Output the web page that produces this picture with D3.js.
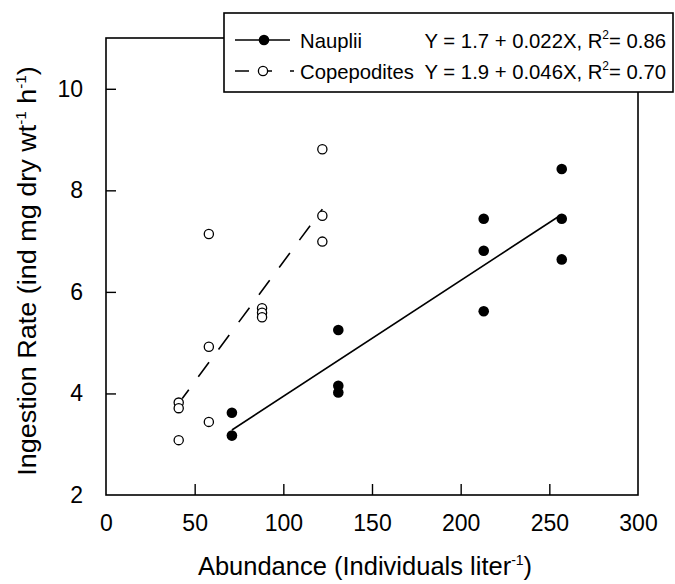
<!DOCTYPE html>
<html>
<head>
<meta charset="utf-8">
<script src="https://cdn.jsdelivr.net/npm/d3@7"></script>
<style>
    body { margin: 0; background: #fff; }
    text { font-family: "Liberation Sans", Arial, Helvetica, sans-serif; fill: #000; }
</style>
</head>
<body>
<div id="chart"></div>
<script>
// abundance (ind/L) and ingestion rate
const naupliiX = [71, 71, 131, 131, 131, 213, 213, 213, 257, 257, 257];
const naupliiY = [3.62, 3.17, 5.25, 4.15, 4.02, 7.44, 6.81, 5.62, 8.42, 7.44, 6.64];
const copeX = [41, 41, 41, 58, 58, 58, 88, 88, 88, 122, 122, 122];
const copeY = [3.82, 3.71, 3.08, 7.14, 4.92, 3.44, 5.68, 5.59, 5.50, 8.81, 7.50, 6.99];

// regression lines (end points as drawn)
const naupliiFit = [[71, 3.28], [255, 7.48]];
const copeFit = [[43, 3.9], [122, 7.63]];

const xTicks = [0, 50, 100, 150, 200, 250, 300];
const yTicks = [2, 4, 6, 8, 10];
const legendLabels = ["Nauplii", "Copepodites"];
const legendEq = ["Y = 1.7 + 0.022X, R", "Y = 1.9 + 0.046X, R"];
const legendR2 = ["= 0.86", "= 0.70"];

const width = 675, height = 584;
const margin = { top: 38, right: 37, bottom: 89, left: 106 };

const svg = d3.select("#chart").append("svg")
    .attr("width", width)
    .attr("height", height);

const x = d3.scaleLinear().domain([0, 300]).range([margin.left, width - margin.right]);
const y = d3.scaleLinear().domain([2, 11]).range([height - margin.bottom, margin.top]);

// frame
svg.append("rect")
    .attr("x", x(0)).attr("y", y(11))
    .attr("width", x(300) - x(0)).attr("height", y(2) - y(11))
    .attr("fill", "none").attr("stroke", "#000").attr("stroke-width", 1.6);

// ticks point inward
const xAxis = svg.append("g")
    .attr("transform", `translate(0,${y(2)})`)
    .call(d3.axisBottom(x).tickValues(xTicks).tickSizeInner(-11).tickSizeOuter(0));
const yAxis = svg.append("g")
    .attr("transform", `translate(${x(0)},0)`)
    .call(d3.axisLeft(y).tickValues(yTicks).tickSizeInner(-10).tickSizeOuter(0));

[xAxis, yAxis].forEach(g => {
    g.select(".domain").remove();
    g.selectAll(".tick line").attr("stroke", "#000").attr("stroke-width", 1.4);
    g.selectAll(".tick text").attr("font-size", 23).attr("fill", "#000")
        .style("font-family", "'Liberation Sans', Arial, sans-serif");
});
xAxis.selectAll(".tick line").filter(d => d === 0 || d === 300).remove();
yAxis.selectAll(".tick line").filter(d => d === 2).remove();
xAxis.selectAll(".tick text").attr("dy", null).attr("y", 36);
yAxis.selectAll(".tick text").attr("x", -23);

// axis titles
const xt = svg.append("text")
    .attr("x", 365)
    .attr("y", 575)
    .attr("text-anchor", "middle")
    .attr("font-size", 25.5);
xt.append("tspan").text("Abundance (Individuals liter");
xt.append("tspan").attr("font-size", 14).attr("dy", -10).text("-1");
xt.append("tspan").attr("dy", 10).text(")");

const yt = svg.append("text")
    .attr("transform", `translate(36,271) rotate(-90) scale(1.08,1)`)
    .attr("text-anchor", "middle")
    .attr("font-size", 25);
yt.append("tspan").text("Ingestion Rate (ind mg dry wt");
yt.append("tspan").attr("font-size", 14).attr("dy", -10).text("-1");
yt.append("tspan").attr("dy", 10).text(" h");
yt.append("tspan").attr("font-size", 14).attr("dy", -10).text("-1");
yt.append("tspan").attr("dy", 10).text(")");

// fit lines
const line = d3.line().x(d => x(d[0])).y(d => y(d[1]));
svg.append("path").datum(naupliiFit)
    .attr("d", line).attr("fill", "none").attr("stroke", "#000").attr("stroke-width", 1.6);
svg.append("path").datum(copeFit)
    .attr("d", line).attr("fill", "none").attr("stroke", "#000").attr("stroke-width", 1.6)
    .attr("stroke-dasharray", "18,16").attr("stroke-dashoffset", 7);

// points
svg.append("g").selectAll("circle")
    .data(d3.zip(copeX, copeY))
    .join("circle")
    .attr("cx", d => x(d[0])).attr("cy", d => y(d[1])).attr("r", 4.6)
    .attr("fill", "#fff").attr("stroke", "#000").attr("stroke-width", 1.3);
svg.append("g").selectAll("circle")
    .data(d3.zip(naupliiX, naupliiY))
    .join("circle")
    .attr("cx", d => x(d[0])).attr("cy", d => y(d[1])).attr("r", 5.3)
    .attr("fill", "#000");

// legend
const lg = svg.append("g");
lg.append("rect")
    .attr("x", 224).attr("y", 13).attr("width", 449).attr("height", 79)
    .attr("fill", "#fff").attr("stroke", "#000").attr("stroke-width", 1.6);
const rowY = [40, 71];
lg.append("line").attr("x1", 235).attr("x2", 290).attr("y1", rowY[0]).attr("y2", rowY[0])
    .attr("stroke", "#000").attr("stroke-width", 1.6);
lg.append("circle").attr("cx", 264).attr("cy", rowY[0]).attr("r", 5.3).attr("fill", "#000");
lg.append("line").attr("x1", 235).attr("x2", 295).attr("y1", rowY[1]).attr("y2", rowY[1])
    .attr("stroke", "#000").attr("stroke-width", 1.6)
    .attr("stroke-dasharray", "14,13,10,18,4");
lg.append("circle").attr("cx", 263).attr("cy", rowY[1]).attr("r", 4.6)
    .attr("fill", "#fff").attr("stroke", "#000").attr("stroke-width", 1.3);

legendLabels.forEach((lab, i) => {
    lg.append("text").attr("x", 300).attr("y", rowY[i] + 7.5).attr("font-size", 20.3).text(lab);
    const t = lg.append("text").attr("x", 666).attr("y", rowY[i] + 7.5)
        .attr("text-anchor", "end").attr("font-size", 20.3);
    t.append("tspan").text(legendEq[i]);
    t.append("tspan").attr("font-size", 12).attr("dy", -9).text("2");
    t.append("tspan").attr("dy", 9).text(legendR2[i]);
});
</script>
</body>
</html>
